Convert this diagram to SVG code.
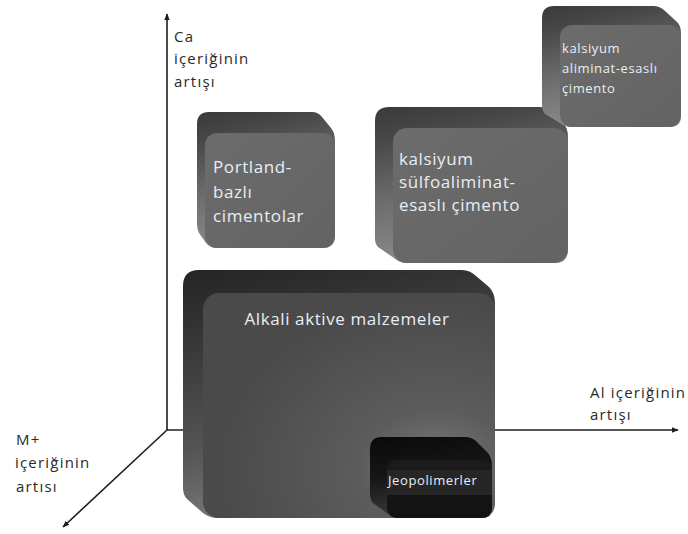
<svg xmlns="http://www.w3.org/2000/svg" width="688" height="534" viewBox="0 0 688 534">
  <defs>
    <style>
      .axis { stroke: #1e1e1e; stroke-width: 1.6; fill: none; }
      .axlbl { font-family: "Open Sans", "Liberation Sans", sans-serif; font-size: 15px; letter-spacing: 1.2px; fill: #2a2a2a; }
      .lbl { font-family: "Open Sans", "Liberation Sans", sans-serif; fill: #e8eef4; letter-spacing: 0.6px; }
    </style>
    <marker id="arrow" viewBox="0 0 10 10" refX="9" refY="5" markerWidth="7" markerHeight="7" markerUnits="userSpaceOnUse" orient="auto">
      <path d="M0,1 L10,5 L0,9 Z" fill="#1e1e1e"/>
    </marker>
    <!-- bevel (extrusion) shading for grey boxes -->
    <linearGradient id="bevelGrey" x1="0" y1="0" x2="0.25" y2="1">
      <stop offset="0" stop-color="#3a3a3a"/>
      <stop offset="0.2" stop-color="#474747"/>
      <stop offset="0.6" stop-color="#6e6e6e"/>
      <stop offset="1" stop-color="#8c8c8c"/>
    </linearGradient>
    <linearGradient id="faceGrey" x1="0" y1="0" x2="1" y2="1">
      <stop offset="0" stop-color="#6c6c6c"/>
      <stop offset="1" stop-color="#636363"/>
    </linearGradient>
    <linearGradient id="bevelDark" x1="0" y1="0" x2="0.25" y2="1">
      <stop offset="0" stop-color="#242424"/>
      <stop offset="0.15" stop-color="#2e2e2e"/>
      <stop offset="0.7" stop-color="#555555"/>
      <stop offset="1" stop-color="#7a7a7a"/>
    </linearGradient>
    <radialGradient id="faceDark" cx="0.8" cy="0.78" r="0.75">
      <stop offset="0" stop-color="#7a7a7a"/>
      <stop offset="0.35" stop-color="#5c5c5c"/>
      <stop offset="1" stop-color="#4a4a4a"/>
    </radialGradient>
    <linearGradient id="bevelBlack" x1="0" y1="0" x2="0.2" y2="1">
      <stop offset="0" stop-color="#0a0a0a"/>
      <stop offset="0.5" stop-color="#161616"/>
      <stop offset="1" stop-color="#3a3a3a"/>
    </linearGradient>
    <linearGradient id="faceBlack" x1="0" y1="0" x2="0" y2="1">
      <stop offset="0" stop-color="#1c1c1c"/>
      <stop offset="1" stop-color="#111111"/>
    </linearGradient>
  </defs>

  <rect width="688" height="534" fill="#ffffff"/>

  <!-- axes -->
  <g id="connectors">
    <line class="axis" x1="167" y1="430" x2="167" y2="14" marker-end="url(#arrow)"/>
    <line class="axis" x1="167" y1="430" x2="678" y2="430" marker-end="url(#arrow)"/>
    <line class="axis" x1="167" y1="430" x2="63" y2="527" marker-end="url(#arrow)"/>
  </g>

  <g id="axis-ca">
    <text class="axlbl" x="174" y="42">Ca</text>
    <text class="axlbl" x="174" y="64">içeriğinin</text>
    <text class="axlbl" x="174" y="87">artışı</text>
  </g>
  <g id="axis-al">
    <text class="axlbl" x="590" y="398">Al içeriğinin</text>
    <text class="axlbl" x="590" y="420">artışı</text>
  </g>
  <g id="axis-m">
    <text class="axlbl" x="16" y="445">M+</text>
    <text class="axlbl" x="15" y="468">içeriğinin</text>
    <text class="axlbl" x="16" y="492">artısı</text>
  </g>

  <!-- Portland-based cements -->
  <g id="node-portland">
    <path d="M197,124 Q197,112 209,112 L312,112 Q318,112 322,117 L331,128 Q335,133 335,141 L335,236 Q335,248 323,248 L217,248 Q210,248 206,243 L199,233 Q197,229 197,224 Z" fill="url(#bevelGrey)"/>
    <rect x="205" y="133" width="130" height="115" rx="12" fill="url(#faceGrey)"/>
    <text class="lbl" font-size="17" x="213" y="173">Portland-</text>
    <text class="lbl" font-size="17" x="213" y="198">bazlı</text>
    <text class="lbl" font-size="17" x="213" y="222">cimentolar</text>
  </g>

  <!-- calcium sulfoaluminate cement -->
  <g id="node-csa">
    <path d="M375,121 Q375,107 389,107 L540,107 Q547,107 552,112 L563,123 Q568,128 568,137 L568,250 Q568,263 555,263 L407,263 Q399,263 394,258 L378,247 Q375,244 375,238 Z" fill="url(#bevelGrey)"/>
    <rect x="393" y="128" width="175" height="135" rx="14" fill="url(#faceGrey)"/>
    <text class="lbl" font-size="17" x="399" y="165">kalsiyum</text>
    <text class="lbl" font-size="17" x="399" y="188">sülfoaliminat-</text>
    <text class="lbl" font-size="17" x="399" y="211">esaslı çimento</text>
  </g>

  <!-- calcium aluminate cement -->
  <g id="node-cac">
    <path d="M542,18 Q542,6 554,6 L653,6 Q660,6 665,11 L676,21 Q681,25 681,33 L681,116 Q681,127 670,127 L572,127 Q565,127 560,123 L545,114 Q542,111 542,105 Z" fill="url(#bevelGrey)"/>
    <rect x="560" y="25" width="121" height="102" rx="12" fill="url(#faceGrey)"/>
    <text class="lbl" font-size="13" letter-spacing="0.4" x="562" y="53">kalsiyum</text>
    <text class="lbl" font-size="13" letter-spacing="0.4" x="562" y="73">aliminat-esaslı</text>
    <text class="lbl" font-size="13" letter-spacing="0.4" x="562" y="93">çimento</text>
  </g>

  <!-- alkali-activated materials -->
  <g id="node-alkali">
    <path d="M183,286 Q183,270 199,270 L462,270 Q470,270 476,276 L489,287 Q495,293 495,303 L495,503 Q495,518 480,518 L218,518 Q209,518 203,513 L187,499 Q183,495 183,488 Z" fill="url(#bevelDark)"/>
    <rect x="203" y="293" width="292" height="225" rx="16" fill="url(#faceDark)"/>
    <text class="lbl" font-size="17" x="347" y="325" text-anchor="middle">Alkali aktive malzemeler</text>
  </g>

  <!-- geopolymers -->
  <g id="node-geo">
    <path d="M370,449 Q370,437 382,437 L465,437 Q472,437 477,442 L487,452 Q492,457 492,466 L492,508 Q492,518 482,518 L399,518 Q392,518 388,514 L373,503 Q370,500 370,494 Z" fill="url(#bevelBlack)"/>
    <rect x="387" y="460" width="105" height="58" rx="10" fill="url(#faceBlack)"/>
    <rect x="387" y="470" width="105" height="25" fill="#262626"/>
    <text class="lbl" font-size="13" letter-spacing="0.4" x="388" y="485">Jeopolimerler</text>
  </g>
</svg>
